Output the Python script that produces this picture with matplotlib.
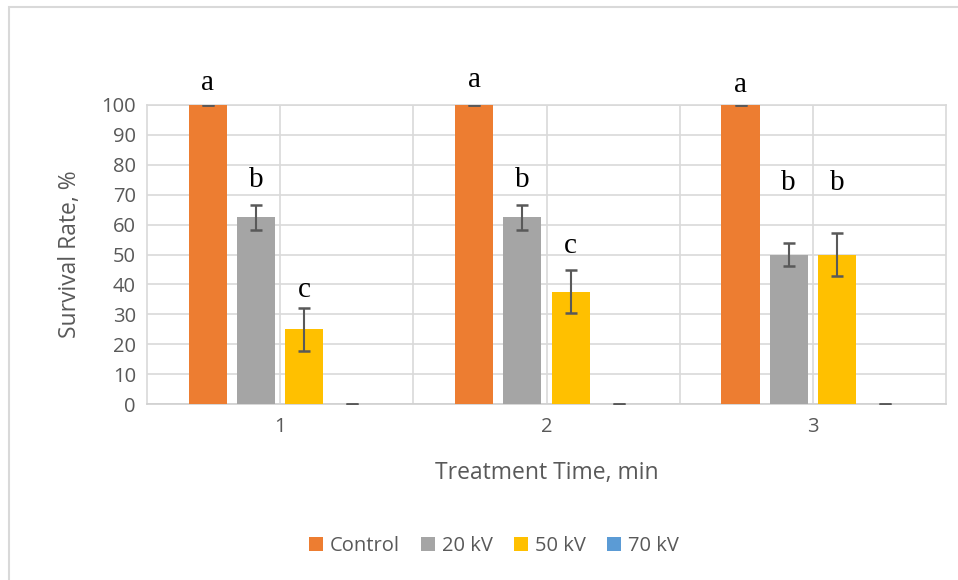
import matplotlib
matplotlib.use("Agg")
import matplotlib.pyplot as plt
from matplotlib.patches import Rectangle
import numpy as np

categories = ["1", "2", "3"]
series = ["Control", "20 kV", "50 kV", "70 kV"]
colors = ["#ED7D31", "#A5A5A5", "#FFC000", "#5B9BD5"]
values = {
    "Control": [100, 100, 100],
    "20 kV": [62.5, 62.5, 50.0],
    "50 kV": [25.0, 37.5, 50.0],
    "70 kV": [0, 0, 0],
}
errors = {
    "Control": [0, 0, 0],
    "20 kV": [4.2, 4.2, 4.0],
    "50 kV": [7.2, 7.2, 7.2],
    "70 kV": [0, 0, 0],
}
letters = {
    "Control": ["a", "a", "a"],
    "20 kV": ["b", "b", "b"],
    "50 kV": ["c", "c", "b"],
}
letter_y = {
    "Control": [107.5, 108.3, 106.8],
    "20 kV": [74.8, 74.8, 74.0],
    "50 kV": [38.0, 53.0, 74.0],
}

plt.rcParams['font.family'] = ['Open Sans', 'DejaVu Sans']
fig = plt.figure(figsize=(9.58, 5.8), dpi=100)

# outer chart frame (left/top visible)
fig.patches.append(Rectangle((8.5 / 958, -0.1), 1.2, 1.1 - 6.5 / 580,
                             transform=fig.transFigure, fill=False,
                             edgecolor="#d9d9d9", linewidth=1.5))

ax = fig.add_axes([147 / 958, 1 - 404 / 580, (946 - 147) / 958, (404 - 105) / 580])
x = np.arange(len(categories))
width = 0.143
step = 0.181
offsets = [-1.5 * step, -0.5 * step, 0.5 * step, 1.5 * step]

grid_c = "#d9d9d9"
for s, c, off in zip(series, colors, offsets):
    ax.bar(x + off, values[s], width=width, color=c, label=s, zorder=3)
    ax.errorbar(x + off, values[s], yerr=errors[s], fmt="none", ecolor="#595959",
                elinewidth=1.5, capsize=4, capthick=1.8, zorder=4)
    if s in letters:
        for xi, lt, ly in zip(x + off, letters[s], letter_y[s]):
            ax.text(xi, ly, lt, ha="center", va="center", fontsize=21,
                    family=["Liberation Serif", "DejaVu Serif"], color="black", zorder=5)

ax.set_xlim(-0.5, 2.5)
ax.set_ylim(0, 100)
ax.set_yticks(np.arange(0, 101, 10))
ax.set_xticks(x)
ax.set_xticklabels(categories)
ax.set_xticks([0.5, 1.5], minor=True)
ax.grid(axis="y", color=grid_c, linewidth=1.2, zorder=0)
ax.grid(axis="x", which="both", color=grid_c, linewidth=1.2, zorder=0)
ax.tick_params(axis="both", which="both", length=0, colors="#595959", labelsize=14.5)
ax.tick_params(axis="x", pad=9)
ax.tick_params(axis="y", pad=8)
for sp in ax.spines.values():
    sp.set_color(grid_c)
    sp.set_linewidth(1.2)
ax.spines["bottom"].set_color("#d0d0d0")
ax.set_axisbelow(True)

ax.set_xlabel("Treatment Time, min", fontsize=16.5, color="#595959", labelpad=18)
ax.set_ylabel("Survival Rate, %", fontsize=16.5, color="#595959", labelpad=14)

leg = fig.legend(loc="center", bbox_to_anchor=(494 / 958, 1 - 546 / 580), ncol=4,
                 frameon=False, fontsize=14.5, handlelength=0.7, handleheight=0.7,
                 handletextpad=0.35, columnspacing=1.05, labelcolor="#595959")

fig.savefig("out.png", dpi=100)
